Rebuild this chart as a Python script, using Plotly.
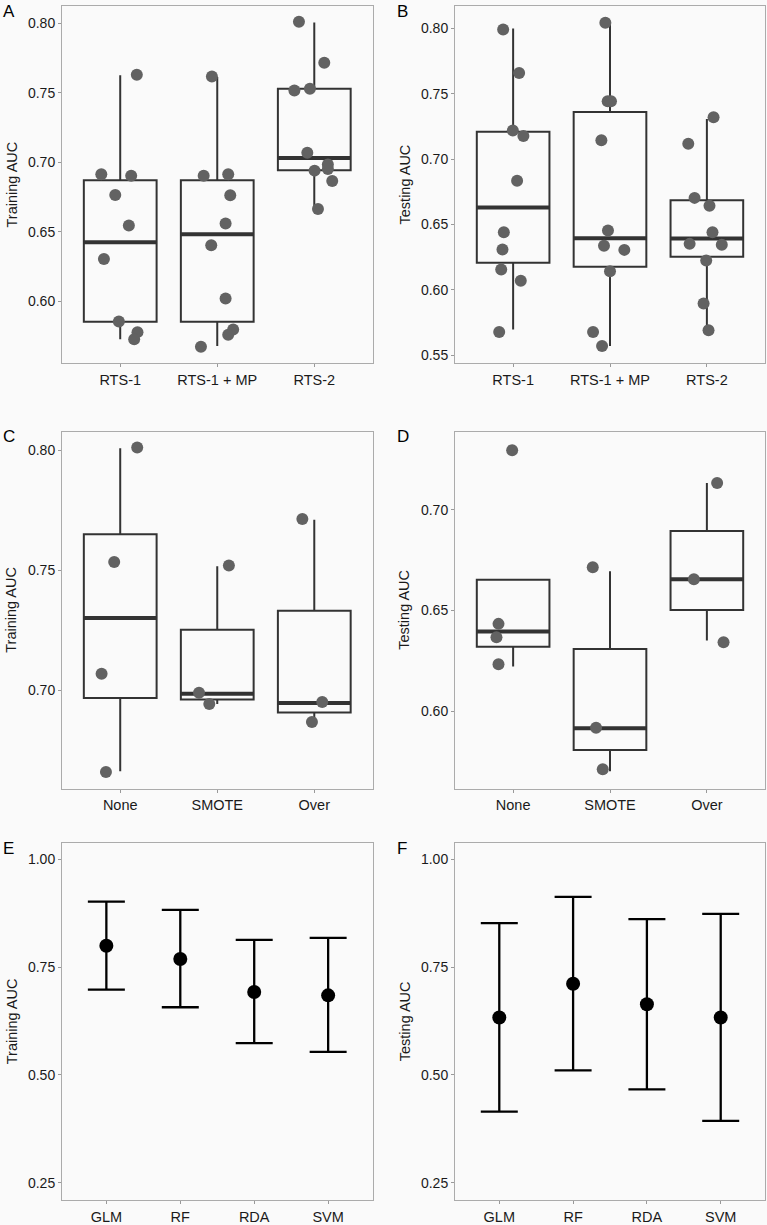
import plotly.graph_objects as go

# ---------------- data ----------------
groups_rts = ["RTS-1", "RTS-1 + MP", "RTS-2"]
groups_bal = ["None", "SMOTE", "Over"]
models = ["GLM", "RF", "RDA", "SVM"]

# Panel A: training AUC by representation
A_vals = [
    [0.7629, 0.6913, 0.6903, 0.6764, 0.6544, 0.6304, 0.5854, 0.5777, 0.5725],
    [0.7617, 0.6903, 0.6913, 0.6762, 0.6558, 0.6402, 0.6019, 0.5796, 0.5758, 0.5672],
    [0.8010, 0.7715, 0.7516, 0.7528, 0.7068, 0.6984, 0.6939, 0.6951, 0.6865, 0.6663],
]
A_jit = [
    [0.171, -0.195, 0.113, -0.051, 0.089, -0.168, -0.014, 0.178, 0.144],
    [-0.055, -0.140, 0.113, 0.134, 0.086, -0.062, 0.086, 0.164, 0.113, -0.168],
    [-0.158, 0.103, -0.205, -0.045, -0.072, 0.140, 0.003, 0.140, 0.185, 0.038],
]
A_q1 = [0.5851, 0.5851, 0.6941]
A_med = [0.6424, 0.6481, 0.7030]
A_q3 = [0.6869, 0.6869, 0.7528]
A_lo = [0.5725, 0.5677, 0.6663]
A_hi = [0.7626, 0.7612, 0.8005]

# Panel B: testing AUC by representation
B_vals = [
    [0.7992, 0.7659, 0.7218, 0.7177, 0.6835, 0.6440, 0.6308, 0.6155, 0.6068, 0.5676],
    [0.8043, 0.7442, 0.7442, 0.7144, 0.6453, 0.6336, 0.6305, 0.6142, 0.5676, 0.5569],
    [0.7320, 0.7118, 0.6703, 0.6642, 0.6440, 0.6351, 0.6344, 0.6224, 0.5895, 0.5689],
]
B_jit = [
    [-0.103, 0.062, -0.003, 0.106, 0.041, -0.096, -0.110, -0.123, 0.079, -0.144],
    [-0.048, -0.024, 0.010, -0.089, -0.021, -0.062, 0.148, 0.000, -0.175, -0.082],
    [0.069, -0.192, -0.127, 0.027, 0.058, -0.178, 0.154, -0.007, -0.034, 0.017],
]
B_q1 = [0.6206, 0.6175, 0.6252]
B_med = [0.6629, 0.6394, 0.6392]
B_q3 = [0.7210, 0.7360, 0.6685]
B_lo = [0.5696, 0.5569, 0.5689]
B_hi = [0.8000, 0.8033, 0.7307]

# Panel C: training AUC by class balancing
C_vals = [
    [0.8011, 0.7534, 0.7068, 0.6659],
    [0.7519, 0.6989, 0.6942],
    [0.7713, 0.6950, 0.6867],
]
C_jit = [
    [0.175, -0.062, -0.192, -0.147],
    [0.120, -0.188, -0.082],
    [-0.123, 0.082, -0.024],
]
C_q1 = [0.6967, 0.6961, 0.6906]
C_med = [0.7300, 0.6985, 0.6946]
C_q3 = [0.7649, 0.7251, 0.7330]
C_lo = [0.6662, 0.6942, 0.6870]
C_hi = [0.8007, 0.7516, 0.7710]

# Panel D: testing AUC by class balancing
D_vals = [
    [0.7295, 0.6434, 0.6368, 0.6234],
    [0.6715, 0.5919, 0.5713],
    [0.7132, 0.6655, 0.6343],
]
D_jit = [
    [-0.010, -0.151, -0.172, -0.151],
    [-0.178, -0.144, -0.075],
    [0.106, -0.134, 0.172],
]
D_q1 = [0.6320, 0.5809, 0.6503]
D_med = [0.6396, 0.5917, 0.6655]
D_q3 = [0.6653, 0.6309, 0.6894]
D_lo = [0.6223, 0.5703, 0.6351]
D_hi = [0.6653, 0.6695, 0.7132]

# Panel E: training AUC by model (mean and interval)
E_mean = [0.7996, 0.7688, 0.6924, 0.6847]
E_upper = [0.9021, 0.8828, 0.8135, 0.8181]
E_lower = [0.6978, 0.6570, 0.5737, 0.5537]

# Panel F: testing AUC by model
F_mean = [0.6331, 0.7117, 0.6639, 0.6331]
F_upper = [0.8520, 0.9129, 0.8613, 0.8736]
F_lower = [0.4149, 0.5105, 0.4666, 0.3934]

# ---------------- styling ----------------
BG = "#FAFAFA"
BOX_COL = "#333333"
PT_COL = "#626262"
FONT = "Liberation Sans, Arial, Helvetica, sans-serif"
W, H = 767, 1225
BOX_W = 0.75

fig = go.Figure()


def add_box_panel(n, vals, jit, q1, med, q3, lo, hi):
    xa, ya = f"x{n}", f"y{n}"
    pos = list(range(len(q1)))
    fig.add_trace(go.Box(
        x=pos, q1=q1, median=med, q3=q3, lowerfence=lo, upperfence=hi,
        width=BOX_W, whiskerwidth=0, boxpoints=False,
        fillcolor="rgba(0,0,0,0)", line=dict(color=BOX_COL, width=2),
        xaxis=xa, yaxis=ya, hoverinfo="skip", showlegend=False))
    mx, my = [], []
    for p, m in zip(pos, med):
        mx += [p - BOX_W / 2, p + BOX_W / 2, None]
        my += [m, m, None]
    fig.add_trace(go.Scatter(
        x=mx, y=my, mode="lines", line=dict(color=BOX_COL, width=4),
        xaxis=xa, yaxis=ya, hoverinfo="skip", showlegend=False))
    px, py = [], []
    for p, vs, js in zip(pos, vals, jit):
        for v, j in zip(vs, js):
            px.append(p + j)
            py.append(v)
    fig.add_trace(go.Scatter(
        x=px, y=py, mode="markers",
        marker=dict(size=12, color=PT_COL),
        xaxis=xa, yaxis=ya, showlegend=False))


def add_err_panel(n, mean, upper, lower):
    xa, ya = f"x{n}", f"y{n}"
    pos = list(range(len(mean)))
    fig.add_trace(go.Scatter(
        x=pos, y=mean, mode="markers",
        marker=dict(size=14, color="black"),
        error_y=dict(type="data", symmetric=False,
                     array=[u - m for u, m in zip(upper, mean)],
                     arrayminus=[m - l for m, l in zip(mean, lower)],
                     color="black", thickness=2.3, width=18.5),
        xaxis=xa, yaxis=ya, showlegend=False))


add_box_panel(1, A_vals, A_jit, A_q1, A_med, A_q3, A_lo, A_hi)
add_box_panel(2, B_vals, B_jit, B_q1, B_med, B_q3, B_lo, B_hi)
add_box_panel(3, C_vals, C_jit, C_q1, C_med, C_q3, C_lo, C_hi)
add_box_panel(4, D_vals, D_jit, D_q1, D_med, D_q3, D_lo, D_hi)
add_err_panel(5, E_mean, E_upper, E_lower)
add_err_panel(6, F_mean, F_upper, F_lower)

# panel geometry (pixels)
left_x = (62, 372.5)
right_x = (455, 765)
rows_y = [(6.5, 364), (432.5, 790), (844.5, 1202.3)]

panels = [
    (1, left_x, rows_y[0], groups_rts, (0.5552, 0.8120), [0.60, 0.65, 0.70, 0.75, 0.80], "Training AUC", "A"),
    (2, right_x, rows_y[0], groups_rts, (0.5436, 0.8168), [0.55, 0.60, 0.65, 0.70, 0.75, 0.80], "Testing AUC", "B"),
    (3, left_x, rows_y[1], groups_bal, (0.6589, 0.8076), [0.70, 0.75, 0.80], "Training AUC", "C"),
    (4, right_x, rows_y[1], groups_bal, (0.5617, 0.7386), [0.60, 0.65, 0.70], "Testing AUC", "D"),
    (5, left_x, rows_y[2], models, (0.2091, 1.0378), [0.25, 0.50, 0.75, 1.00], "Training AUC", "E"),
    (6, right_x, rows_y[2], models, (0.2091, 1.0378), [0.25, 0.50, 0.75, 1.00], "Testing AUC", "F"),
]

axis_common = dict(showline=True, mirror=True, linecolor="#ABABAB", linewidth=1,
                   ticks="outside", ticklen=3, tickcolor="#999999", tickwidth=1,
                   showgrid=False, zeroline=False)

annotations = []
layout_axes = {}
for n, xr, yr, cats, yrange, yticks, ytitle, letter in panels:
    sfx = "" if n == 1 else str(n)
    xdom = [xr[0] / W, xr[1] / W]
    ydom = [1 - yr[1] / H, 1 - yr[0] / H]
    layout_axes[f"xaxis{sfx}"] = dict(
        domain=xdom, anchor=f"y{n}",
        range=[-0.6, len(cats) - 0.4],
        tickvals=list(range(len(cats))), ticktext=cats,
        tickfont=dict(size=14.5, color="#1a1a1a", family=FONT), **axis_common)
    layout_axes[f"yaxis{sfx}"] = dict(
        domain=ydom, anchor=f"x{n}", range=list(yrange),
        tickvals=yticks, ticktext=[f"{t:.2f}" for t in yticks],
        tickfont=dict(size=14, color="#1a1a1a", family=FONT), **axis_common)
    # y-axis title
    title_x = xr[0] - 50.5
    annotations.append(dict(
        text=ytitle, textangle=-90, xref="paper", yref="paper",
        x=title_x / W, y=1 - (yr[0] + yr[1]) / 2 / H,
        xanchor="center", yanchor="middle", showarrow=False,
        font=dict(size=14.5, color="#1a1a1a", family=FONT)))
    # panel letter
    lx = 1 if n % 2 == 1 else 395
    annotations.append(dict(
        text=letter, xref="paper", yref="paper",
        x=lx / W, y=1 - (yr[0] + 5) / H,
        xanchor="left", yanchor="middle", showarrow=False,
        font=dict(size=17, color="black", family=FONT)))

fig.update_layout(
    width=W, height=H,
    margin=dict(l=0, r=0, t=0, b=0),
    paper_bgcolor=BG, plot_bgcolor=BG,
    boxmode="overlay",
    showlegend=False,
    annotations=annotations,
    font=dict(family=FONT),
    **layout_axes,
)

fig.write_html(
    "out.html",
    config={"displayModeBar": False},
    post_script="document.body.style.margin='0px';document.body.style.overflow='hidden';",
)
